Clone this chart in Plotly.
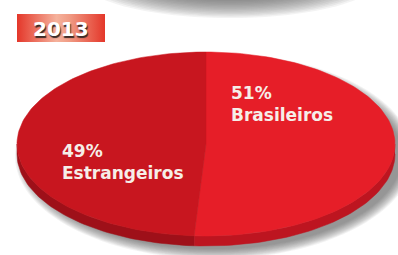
import numpy as np
import plotly.graph_objects as go

# ---- data ----
year_label = "2013"
categories = ["Brasileiros", "Estrangeiros"]
shares = [51, 49]
pct_labels = ["51%", "49%"]

top_colors = ["#e61e28", "#c8161f"]
rim_colors = ["#bd1520", "#9e1019"]

W, H = 398, 255
cx, cy, a, b, depth = 206, 144, 189, 92, 10

def pt(theta_deg, dy=0.0):
    t = np.radians(theta_deg)
    return cx + a * np.sin(t), cy - b * np.cos(t) + dy

fig = go.Figure()

# soft shadows (layered translucent ellipses)
tt = np.linspace(0, 2 * np.pi, 160)
for k in range(18):
    ea, eb = 150 - k * 4.0, 40 - k * 1.3
    fig.add_trace(go.Scatter(x=230 + ea * np.sin(tt), y=-22 + eb * np.cos(tt),
                             fill="toself", mode="none",
                             fillcolor="rgba(100,100,100,0.075)", hoverinfo="skip", showlegend=False))
for k in range(12):
    ea, eb = a + 10 - k * 1.0, b + 11 - k * 0.9
    fig.add_trace(go.Scatter(x=cx + 8 + ea * np.sin(tt), y=cy + 12 + eb * np.cos(tt),
                             fill="toself", mode="none",
                             fillcolor="rgba(80,80,80,0.065)", hoverinfo="skip", showlegend=False))

# slice angles from shares
total = sum(shares)
bounds = [0.0]
for v in shares:
    bounds.append(bounds[-1] + 360.0 * v / total)

# rims (front visible portion, 90..270 deg)
for i in range(len(shares)):
    s, e = max(bounds[i], 90), min(bounds[i + 1], 270)
    if e <= s:
        continue
    th = np.linspace(s, e, 60)
    xs_top, ys_top = pt(th)
    xs_bot, ys_bot = pt(th[::-1], depth)
    fig.add_trace(go.Scatter(x=np.concatenate([xs_top, xs_bot]), y=np.concatenate([ys_top, ys_bot]),
                             fill="toself", mode="lines", line=dict(width=0.5, color=rim_colors[i]),
                             fillcolor=rim_colors[i], hoverinfo="skip", showlegend=False))

# top faces
for i in range(len(shares)):
    th = np.linspace(bounds[i], bounds[i + 1], 120)
    xs, ys = pt(th)
    fig.add_trace(go.Scatter(x=np.concatenate([[cx], xs, [cx]]), y=np.concatenate([[cy], ys, [cy]]),
                             fill="toself", mode="lines", line=dict(width=0.5, color=top_colors[i]),
                             fillcolor=top_colors[i], name=categories[i],
                             hoverinfo="name", showlegend=False))

# year badge
bx0, bx1, by0, by1 = 17, 105, 14, 42
fig.add_trace(go.Scatter(x=[bx0, bx1, bx1, bx0, bx0], y=[by0, by0, by1, by1, by0],
                         fill="toself", mode="none",
                         fillgradient=dict(type="horizontal",
                                           colorscale=[[0, "#e4372a"], [0.45, "#f5b29c"],
                                                       [0.6, "#f09a83"], [1, "#e4372a"]]),
                         hoverinfo="skip", showlegend=False))

ann = []
ann.append(dict(x=60.5, y=28.5, text="<b>" + year_label + "</b>", showarrow=False,
                font=dict(family="DejaVu Sans", size=20, color="#ffffff",
                          shadow="1px 2px 1px #3a2a26"),
                xanchor="center", yanchor="middle"))

label_pos = [(229, 93, 115), (60, 151, 173)]
for i, (lx, ly1, ly2) in enumerate(label_pos):
    ann.append(dict(x=lx, y=ly1, text="<b>" + pct_labels[i] + "</b>", showarrow=False,
                    font=dict(family="DejaVu Sans", size=17, color="#f6eee8"),
                    xanchor="left", yanchor="middle"))
    ann.append(dict(x=lx, y=ly2, text="<b>" + categories[i] + "</b>", showarrow=False,
                    font=dict(family="DejaVu Sans", size=17, color="#f6eee8"),
                    xanchor="left", yanchor="middle"))

fig.update_layout(
    width=W, height=H, margin=dict(l=0, r=0, t=0, b=0),
    paper_bgcolor="white", plot_bgcolor="white",
    xaxis=dict(range=[0, W], visible=False, fixedrange=True),
    yaxis=dict(range=[H, 0], visible=False, fixedrange=True),
    annotations=ann,
)

fig.write_html("out.html", config={"displayModeBar": False},
               post_script="document.body.style.margin='0';document.body.style.padding='0';document.body.style.overflow='hidden';")
